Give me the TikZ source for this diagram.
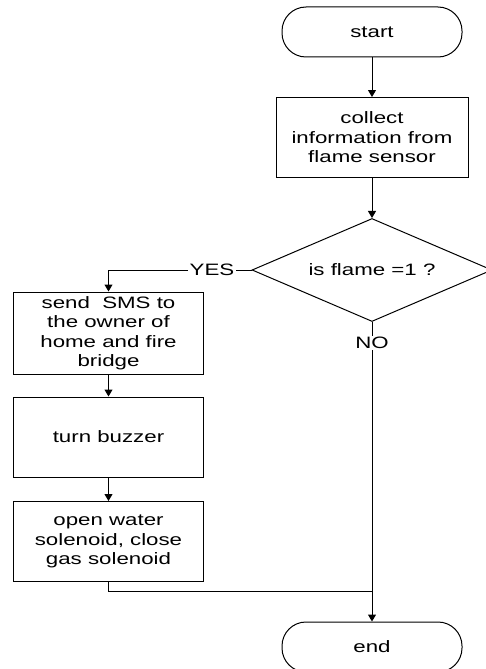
\documentclass[tikz,border=0pt]{standalone}
\usepackage{fontspec}
\setmainfont{Liberation Sans}[FakeStretch=1.35]
\usetikzlibrary{shapes.geometric,arrows.meta}

\tikzset{
  terminal/.style={draw, rounded corners=24pt, minimum width=180pt, minimum height=50pt},
  process/.style={draw, align=center, minimum width=190pt, minimum height=80pt, inner sep=2pt},
  decision/.style={draw, diamond, aspect=2.4, minimum width=240pt, minimum height=103pt, inner sep=0pt},
  answer/.style={inner sep=1pt},
  flow/.style={-{Triangle[length=7pt,width=8pt]}},
}

\begin{document}
\begin{tikzpicture}[x=1pt, y=-1pt, line width=1pt, font=\fontsize{16.5}{19.5}\selectfont]
        \useasboundingbox (0,0) rectangle (485,669);

        % Inicio y lectura del sensor
        \node[terminal] (start) at (372,32) {start};
        \node[process, minimum width=192pt] (collect) at (372,137.5) {collect\\information from\\flame sensor};

        % Pregunta
        \node[decision] (cond) at (372,270) {is flame =1 ?};
        \node[answer] (yes) at (212,270) {YES};
        \node[answer] (no) at (372,343) {NO};

        % Rama YES
        \node[process, minimum height=82pt] (sms) at (108.5,333) {send\ \ SMS to\\the owner of\\home and fire\\bridge};
        \node[process] (buzzer) at (108.5,437) {turn buzzer};
        \node[process] (water) at (108.5,541.5) {open water\\solenoid, close\\gas solenoid};

        % Fin
        \node[terminal] (end) at (372,647) {end};
        \coordinate (join) at (372,591);

        % Flechas
        \draw[flow] (start) -- (collect);
        \draw[flow] (collect) -- (cond);
        \draw (cond.west) -- (yes);
        \draw[flow] (yes.west) -| (sms.north);
        \draw[flow] (sms) -- (buzzer);
        \draw[flow] (buzzer) -- (water);
        \draw (cond.south) -- (no);
        \draw[flow] (no) -- (end);
        \draw (water.south) |- (join);
    \end{tikzpicture}
\end{document}
